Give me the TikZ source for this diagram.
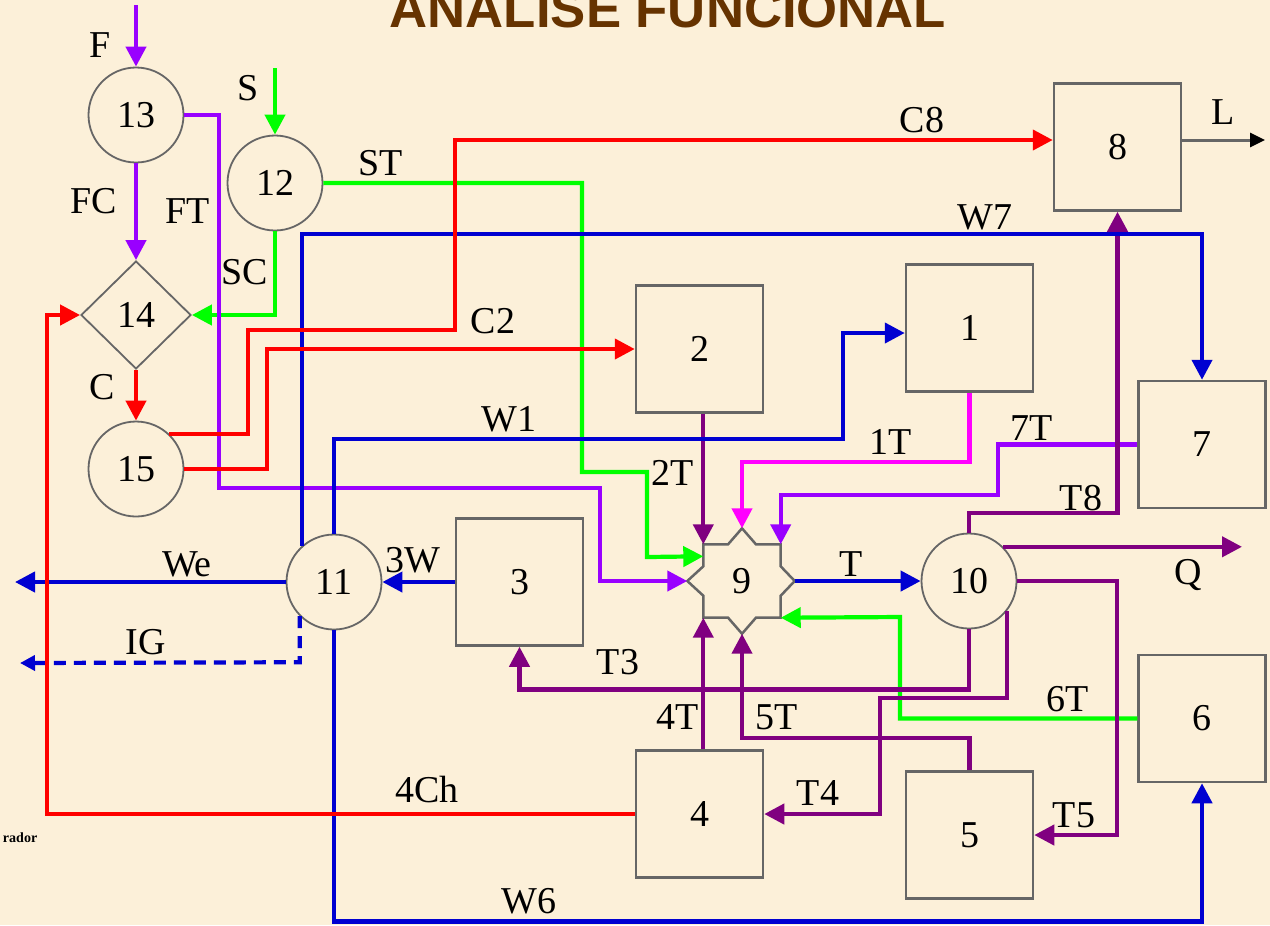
\documentclass[tikz,border=0pt]{standalone}
\usepackage{fontspec}
\setmainfont{Liberation Serif}
\newfontfamily\titulofont{Liberation Sans}
\usetikzlibrary{arrows.meta,calc,shapes.geometric}
\definecolor{fundo}{rgb}{0.99,0.94,0.85}
\definecolor{marrom}{rgb}{0.40,0.20,0.00}
\definecolor{cinzabloco}{rgb}{0.40,0.40,0.40}
\definecolor{vermelho}{rgb}{1,0,0}
\definecolor{verde}{rgb}{0,1,0}
\definecolor{azul}{rgb}{0,0,0.82}
\definecolor{violeta}{rgb}{0.6,0,1}
\definecolor{rosa}{rgb}{1,0,1}
\definecolor{roxo}{rgb}{0.5,0,0.5}
\tikzset{
  bloco/.style={
    draw=cinzabloco,
    line width=.25mm,
    fill=fundo,
    minimum size=12.7mm,
    inner sep=0pt,
    font={\fontsize{10.8}{12}\selectfont}
  },
  circulo/.style={
    circle,
    draw=cinzabloco,
    line width=.18mm,
    fill=fundo,
    minimum size=9.5mm,
    inner sep=0pt,
    font={\fontsize{10.8}{12}\selectfont}
  },
  losango/.style={
    diamond,
    draw=cinzabloco,
    line width=.18mm,
    fill=fundo,
    minimum width=11mm,
    minimum height=10.8mm,
    inner sep=0pt,
    font={\fontsize{10.8}{12}\selectfont}
  },
  rotulo/.style={
    inner sep=0pt,
    font={\fontsize{10.8}{12}\selectfont}
  },
  fluxo/.style={
    -{Triangle[length=2mm,width=2mm]},
    line width=.42mm
  }
}

\begin{document}
\begin{tikzpicture}[x=0.1mm,y=-0.1mm]
\clip (0,0) rectangle (1270,925);
\fill[fundo] (0,0) rectangle (1270,925);
\node[font={\titulofont\bfseries\fontsize{15}{18}\selectfont},text=marrom,anchor=base] (titulo) at (668,27) {ANÁLISE FUNCIONAL};
\node[font={\bfseries\fontsize{4}{5}\selectfont},anchor=east,inner sep=0pt] (rodape) at (38,838) {rador};

% equipamentos
\node[circulo] (n13) at (136,115) {13};
\node[circulo] (n12) at (275,183) {12};
\node[losango] (n14) at (136,315) {14};
\node[circulo] (n15) at (136,469) {15};
\node[circulo] (n11) at (334,582) {11};
\node[circulo] (n10) at (969,581) {10};
\node[bloco] (n1) at (969.5,328) {1};
\node[bloco] (n2) at (699.5,349) {2};
\node[bloco] (n3) at (519.5,582) {3};
\node[bloco] (n4) at (699.5,814) {4};
\node[bloco] (n5) at (969.5,835) {5};
\node[bloco] (n6) at (1202,718.5) {6};
\node[bloco] (n7) at (1202,444.5) {7};
\node[bloco] (n8) at (1117.5,147) {8};
\node[minimum width=7.6mm,minimum height=7.2mm,inner sep=0pt] (n9) at (742,581) {};
\coordinate (p9n) at ($(n9.north)+(0,-16)$);
\coordinate (p9e) at ($(n9.east)+(14,0)$);
\coordinate (p9s) at ($(n9.south)+(0,16)$);
\coordinate (p9w) at ($(n9.west)+(-16,0)$);
\draw[draw=cinzabloco,line width=.25mm,fill=fundo] (n9.north west)
  -- ($(n9.north west)!.32!(n9.north east)$) -- (p9n) -- ($(n9.north west)!.68!(n9.north east)$)
  -- (n9.north east) -- ($(n9.north east)!.3!(n9.south east)$) -- (p9e) -- ($(n9.north east)!.7!(n9.south east)$)
  -- (n9.south east) -- ($(n9.south east)!.32!(n9.south west)$) -- (p9s) -- ($(n9.south east)!.68!(n9.south west)$)
  -- (n9.south west) -- ($(n9.south west)!.3!(n9.north west)$) -- (p9w) -- ($(n9.south west)!.7!(n9.north west)$)
  -- cycle;
\node[rotulo] (t9) at (n9) {9};

% pontas livres
\coordinate (f) at (136,5);
\coordinate (s) at (275,68);
\coordinate (we) at (15,582);
\coordinate (ig) at (20,663);
\coordinate (q) at (1242,548);
\coordinate (l) at (1265,140);
\coordinate (w1) at (843,333);

% fluxos
\draw[fluxo,verde] (s) -- (n12.north);
\draw[fluxo,verde] (n12.south) |- (n14.east);
\draw[fluxo,verde] (n12.east) -| (582,472) -| (647,557) -- ($(n9.north west)+(0,12)$);
\draw[fluxo,verde] (n6.west) -| (900,617) -- (n9.south east);
\draw[fluxo,violeta] (f) -- (n13.north);
\draw[fluxo,violeta] (n13.south) -- (n14.north);
\draw[fluxo,violeta] (n13.east) -| (219,488) -| (600,581) -- (p9w);
\draw[fluxo,violeta] (n7.west) -| (998,495) -| (n9.north east);
\draw[fluxo,rosa] (n1.south) -- ++(0,69) -| (p9n);
\draw[fluxo,roxo] (n2.south -| n9.north west) -- (n9.north west);
\draw[fluxo,roxo] (n4.north -| n9.south west) -- (n9.south west);
\draw[fluxo,roxo] (n5.north) -- ++(0,-32) -| (p9s);
\draw[fluxo,roxo] (n10.north) -- ++(0,-20) -| (n8.south);
\draw[fluxo,roxo] (n10.45) -- (n10.45 -| q);
\draw[fluxo,roxo] (n10.east) -| (1117,835) -- (n5.east);
\draw[fluxo,roxo] (n10.south) -- ++(0,60) -| (n3.south);
\draw[fluxo,roxo] (n10.-39) |- (880,698) |- (n4.east);
\draw[fluxo,azul] (p9e) -- (n10.west);
\draw[fluxo,azul] (n11.132) -- ++(0,-312) -| (n7.north);
\draw[fluxo,azul] (n11.north) -- ++(0,-95) -| (w1) -- (n1.west |- w1);
\draw[fluxo,azul] (n11.south) -- ++(0,291) -| (n6.south);
\draw[fluxo,azul] (n11.west) -- (we);
\draw[fluxo,azul] (n3.west) -- (n11.east);
\draw[fluxo,azul,dash pattern=on 1.2mm off .8mm,-{Triangle[length=1.5mm,width=1.5mm]}] (n11.-135) -- ++(0,46) -- (ig);
\draw[fluxo,vermelho] (n14.south) -- (n15.north);
\draw[fluxo,vermelho] (n15.47) -| (248,330) -| (455,140) -- (n8.west |- l);
\draw[fluxo,vermelho] (n15.east) -| (267,349) -- (n2.west);
\draw[fluxo,vermelho] (n4.west) -| (47,315) -- (n14.west);
\draw[line width=.3mm,cinzabloco,-{Triangle[length=1.5mm,width=1.4mm,color=black]}] (n8.east |- l) -- (l);

% rotulos
\node[rotulo] (lF) at (100,45) {F};
\node[rotulo] (lS) at (248,88) {S};
\node[rotulo] (lFC) at (94,201) {FC};
\node[rotulo] (lFT) at (188,211) {FT};
\node[rotulo] (lST) at (381,163) {ST};
\node[rotulo] (lSC) at (245,272) {SC};
\node[rotulo] (lC) at (102,387) {C};
\node[rotulo] (lC8) at (922,120) {C8};
\node[rotulo] (lW7) at (985,217) {W7};
\node[rotulo] (lC2) at (493,321) {C2};
\node[rotulo] (lW1) at (509,419) {W1};
\node[rotulo] (l1T) at (891,442) {1T};
\node[rotulo] (l7T) at (1032,428) {7T};
\node[rotulo] (l2T) at (673,473) {2T};
\node[rotulo] (lT8) at (1081,498) {T8};
\node[rotulo] (lWe) at (187,564) {We};
\node[rotulo] (l3W) at (413,560) {3W};
\node[rotulo] (lT) at (851,564) {T};
\node[rotulo] (lQ) at (1188,575) {Q};
\node[rotulo] (lIG) at (146,642) {IG};
\node[rotulo] (lT3) at (618,662) {T3};
\node[rotulo] (l6T) at (1068,699) {6T};
\node[rotulo] (l4T) at (678,717) {4T};
\node[rotulo] (l5T) at (777,717) {5T};
\node[rotulo] (l4Ch) at (427,789) {4Ch};
\node[rotulo] (lT4) at (818,793) {T4};
\node[rotulo] (lT5) at (1074,815) {T5};
\node[rotulo] (lW6) at (529,901) {W6};
\node[rotulo] (lL) at (1223,112) {L};
\end{tikzpicture}
\end{document}
